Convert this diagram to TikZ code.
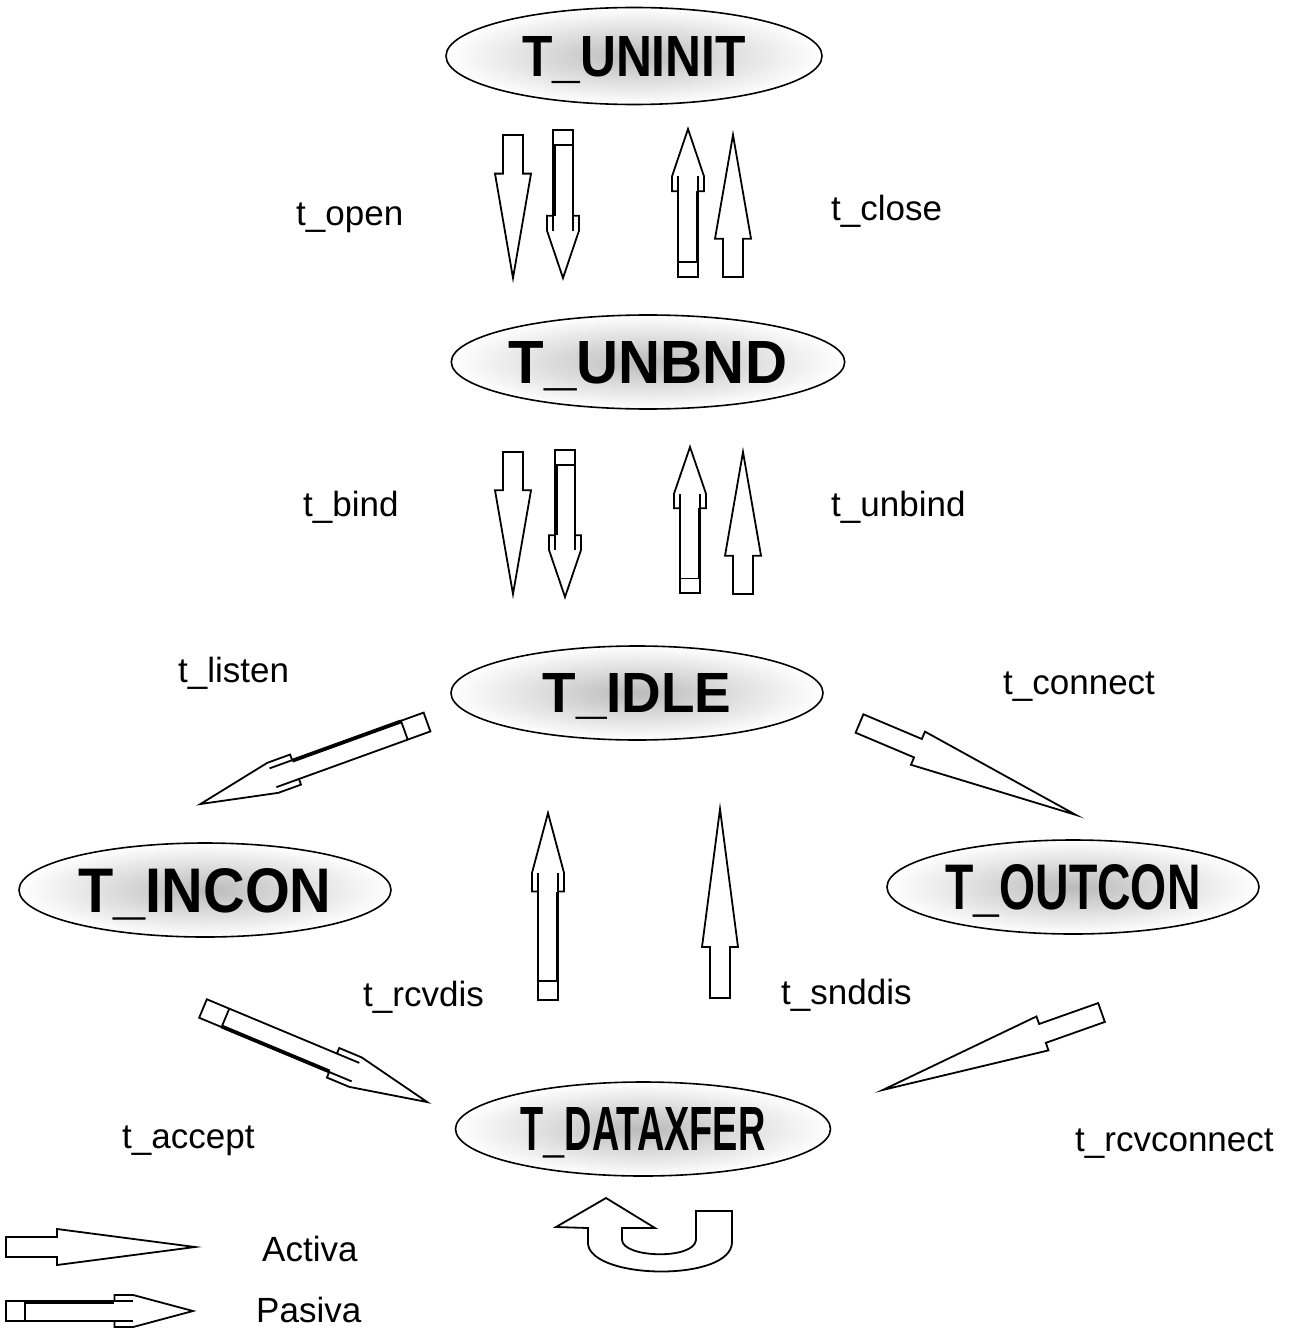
\documentclass[tikz,border=0pt]{standalone}
\usepackage{fontspec}
\setmainfont{Liberation Sans}
\usepackage{graphicx}
\usetikzlibrary{shapes.geometric}
\newcommand{\sttext}[3]{\resizebox{#1pt}{#2pt}{\raisebox{0pt}[\height][0pt]{\bfseries #3}}}
\tikzset{
  arrowline/.style={draw=black, line width=1.8pt, fill=white, line join=miter},
  state/.style={ellipse, draw=black, line width=1.6pt, inner sep=0pt,
    minimum width=372pt, minimum height=94pt, inner color=black!27, outer color=white},
  lbl/.style={font=\fontsize{35}{40}\selectfont, inner sep=0pt, anchor=base west},
  pics/activearrow/.style={code={
    \pgfmathsetmacro\aL{#1}\pgfmathsetmacro\aS{0.27*#1}
    \draw[arrowline] (0,10) -- (\aS,10) -- (\aS,18) -- (\aL,0) -- (\aS,-18) -- (\aS,-10) -- (0,-10) -- cycle;
  }},
  pics/passivearrow/.style={code={
    \pgfmathsetmacro\pL{#1}\pgfmathsetmacro\pA{0.58*#1}\pgfmathsetmacro\pB{0.68*#1}\pgfmathsetmacro\pC{0.1*#1}
    \draw[arrowline] (0,10) -- (\pA,10) -- (\pA,16) -- (\pB,16) -- (\pL,0) -- (\pB,-16) -- (\pA,-16) -- (\pA,-10) -- (0,-10) -- cycle;
    \draw[line width=1.8pt] (\pC,10) -- (\pC,-10) (\pA,10) -- (\pB,10) (\pA,-10) -- (\pB,-10);
    \draw[line width=3.8pt] (\pC,-9.4) -- (\pA,-9.4);
  }},
}
\begin{document}
\begin{tikzpicture}[x=1pt,y=1pt]
\useasboundingbox (0,0) rectangle (1293,-1332);

% states
\node[state, minimum width=376pt, minimum height=97pt] (uninit) at (634,-56) {\sttext{224}{40}{T\_UNINIT}};
\node[state] (unbnd) at (648,-362) {\sttext{278}{42}{T\_UNBND}};
\node[state] (idle) at (637,-693) {\sttext{189}{39}{T\_IDLE}};
\node[state] (incon) at (205,-890) {\sttext{253}{44}{T\_INCON}};
\node[state] (outcon) at (1073,-887) {\sttext{255}{45}{T\_OUTCON}};
\node[state, minimum width=375pt, minimum height=94pt] (dataxfer) at (643,-1129) {\sttext{245}{43}{T\_DATAXFER}};

% arrow anchor points (tails)
\coordinate (openA) at (513,-135);
\coordinate (openP) at (563,-130);
\coordinate (closeP) at (688,-277);
\coordinate (closeA) at (733,-277);
\coordinate (bindA) at (513,-452);
\coordinate (bindP) at (565,-450);
\coordinate (unbindP) at (690,-593);
\coordinate (unbindA) at (743,-594);
\coordinate (listenP) at (427,-722);
\coordinate (connectA) at (859.5,-723.5);
\coordinate (rcvdisP) at (548,-1000);
\coordinate (snddisA) at (720,-998);
\coordinate (acceptP) at (203,-1008.5);
\coordinate (rcvconA) at (1101.5,-1012.5);
\coordinate (legA) at (6,-1247);
\coordinate (legP) at (6,-1311);

\pic[rotate=-90] at (openA) {activearrow=143};
\pic[rotate=-90] at (openP) {passivearrow=148};
\pic[rotate=90] at (closeP) {passivearrow=148};
\pic[rotate=90] at (closeA) {activearrow=142};
\pic[rotate=-90] at (bindA) {activearrow=142};
\pic[rotate=-90] at (bindP) {passivearrow=147};
\pic[rotate=90] at (unbindP) {passivearrow=146};
\pic[rotate=90] at (unbindA) {activearrow=142};
\pic[rotate=199.9] at (listenP) {passivearrow=241};
\pic[rotate=-22.9] at (connectA) {activearrow=235};
\pic[rotate=90] at (rcvdisP) {passivearrow=187};
\pic[rotate=90] at (snddisA) {activearrow=189};
\pic[rotate=-22.65] at (acceptP) {passivearrow=243};
\pic[rotate=199.5] at (rcvconA) {activearrow=232};
\pic at (legA) {activearrow=189};
\pic[yscale=-1] at (legP) {passivearrow=187};

% U-turn arrow
\draw[arrowline] (606,-1198) -- (655,-1228) -- (622,-1228) -- (622,-1240)
  .. controls (623,-1258) and (694,-1260) .. (696,-1240) -- (696,-1211) -- (732,-1211) -- (732,-1242)
  .. controls (732,-1282) and (592,-1280) .. (588,-1244) -- (588,-1228) -- (556,-1227) -- cycle;

% labels
\node[lbl] (lopen) at (296,-226) {t\_open};
\node[lbl] (lclose) at (831,-221) {t\_close};
\node[lbl] (lbind) at (303,-516) {t\_bind};
\node[lbl] (lunbind) at (831,-516) {t\_unbind};
\node[lbl] (llisten) at (178,-682) {t\_listen};
\node[lbl] (lconnect) at (1003,-694) {t\_connect};
\node[lbl] (lrcvdis) at (363,-1006) {t\_rcvdis};
\node[lbl] (lsnddis) at (781,-1004) {t\_snddis};
\node[lbl] (laccept) at (122,-1148) {t\_accept};
\node[lbl] (lrcvcon) at (1075,-1151) {t\_rcvconnect};
\node[lbl] (lactiva) at (262,-1261) {Activa};
\node[lbl] (lpasiva) at (256,-1322) {Pasiva};
\end{tikzpicture}
\end{document}
